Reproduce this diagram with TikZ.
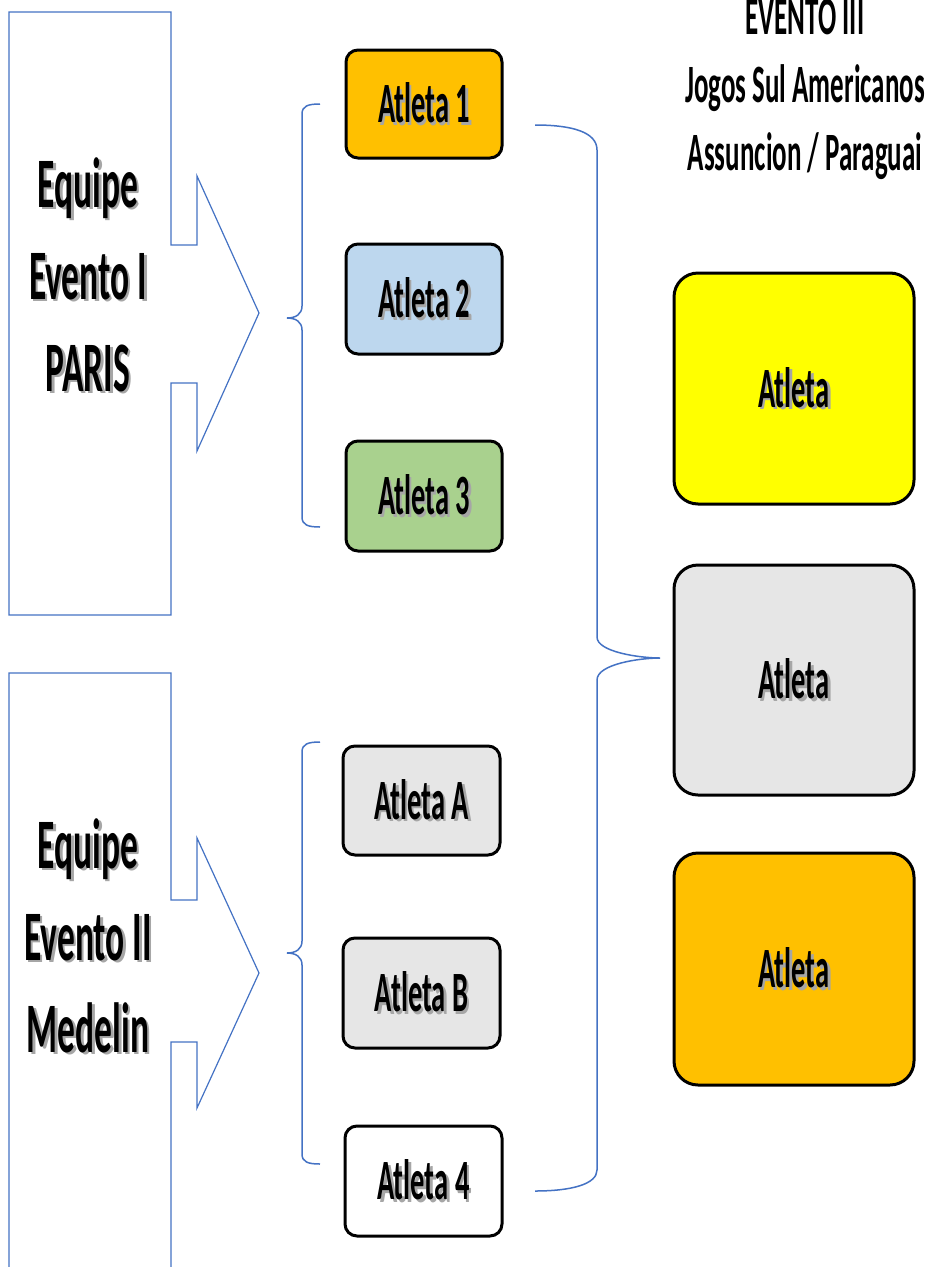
\documentclass[tikz,border=0pt]{standalone}
\usepackage{fontspec}
\newfontfamily\cf{Carlito}[FakeStretch=0.5]
\definecolor{bl}{HTML}{4472C4}
\definecolor{oran}{HTML}{FFC000}
\definecolor{lblue}{HTML}{BDD7EE}
\definecolor{lgreen}{HTML}{A9D18E}
\definecolor{lgray}{HTML}{E6E6E6}
\definecolor{yel}{HTML}{FFFF00}
\newcommand\shd[1]{\leavevmode\rlap{\kern2.5pt\raisebox{-2.5pt}{\color{black!35}#1}}#1}
\begin{document}
\begin{tikzpicture}[x=1pt,y=-1pt,
  outl/.style={draw=bl, line width=1.2pt, line join=miter},
  brc/.style={draw=bl, line width=1.5pt},
  ath/.style={draw=black, line width=3pt, rounded corners=12pt, minimum width=156pt, minimum height=108pt, inner sep=0pt, font=\cf\bfseries\fontsize{57}{60}\selectfont},
  bigb/.style={draw=black, line width=3pt, rounded corners=24pt, minimum width=240pt, minimum height=230pt, inner sep=0pt, font=\cf\bfseries\fontsize{57}{60}\selectfont},
  eq/.style={align=center, inner sep=0pt, font=\cf\bfseries\fontsize{71}{92}\selectfont},
  ttl/.style={align=center, inner sep=0pt, font=\cf\bfseries\fontsize{54}{68}\selectfont}]
\useasboundingbox (0,0) rectangle (927,1267);
\fill[white] (0,0) rectangle (927,1267);
% team boxes with block arrows
\draw[outl] (171,245) -- (171,12) -- (9,12) -- (9,615) -- (171,615) -- (171,383) -- (197,383) -- (197,451) -- (259,313) -- (197,176) -- (197,245) -- cycle;
\draw[outl] (9,1280) -- (9,673) -- (171,673) -- (171,900) -- (197,900) -- (197,838) -- (259,973) -- (197,1108) -- (197,1042) -- (171,1042) -- (171,1280);
\node[eq] (e1) at (88,276) {\shd{Equipe}\\\shd{Evento I}\\\shd{PARIS}};
\node[eq] (e2) at (88,937) {\shd{Equipe}\\\shd{Evento II}\\\shd{Medelin}};
% athletes
\node[ath, fill=oran] (a1) at (424,104) {\shd{Atleta 1}};
\node[ath, fill=lblue, minimum height=110pt] (a2) at (424,299) {\shd{Atleta 2}};
\node[ath, fill=lgreen, minimum height=110pt] (a3) at (424,496) {\shd{Atleta 3}};
\node[ath, fill=lgray, minimum width=157pt, minimum height=109pt] (aA) at (421.5,800.5) {\shd{Atleta A}};
\node[ath, fill=lgray, minimum width=157pt, minimum height=110pt] (aB) at (421.5,993) {\shd{Atleta B}};
\node[ath, fill=white, minimum width=157pt, minimum height=110pt] (a4) at (423.5,1181) {\shd{Atleta 4}};
% event III
\node[ttl] (t) at (805,89.5) {EVENTO III\\Jogos Sul Americanos\\Assuncion / Paraguai};
\node[bigb, fill=yel, minimum height=231pt] (b1) at (794,388.5) {\shd{Atleta}};
\node[bigb, fill=lgray] (b2) at (794,680) {\shd{Atleta}};
\node[bigb, fill=oran, minimum height=232pt] (b3) at (794,969) {\shd{Atleta}};
% braces
\coordinate (l1t) at (320,104);
\coordinate (l1b) at (320,527);
\coordinate (l1m) at (287,318);
\draw[brc] (l1t) .. controls (308,104) and (302,106) .. (302,114) -- (302,306)
  .. controls (302,314) and (296,318) .. (l1m) .. controls (296,318) and (302,322) .. (302,330)
  -- (302,517) .. controls (302,525) and (308,527) .. (l1b);
\coordinate (l2t) at (320,742);
\coordinate (l2b) at (320,1164);
\coordinate (l2m) at (287,953);
\draw[brc] (l2t) .. controls (308,742) and (302,744) .. (302,752) -- (302,941)
  .. controls (302,949) and (296,953) .. (l2m) .. controls (296,953) and (302,957) .. (302,965)
  -- (302,1154) .. controls (302,1162) and (308,1164) .. (l2b);
\coordinate (rt) at (535,125);
\coordinate (rb) at (535,1191);
\coordinate (rm) at (660,658);
\draw[brc] (rt) .. controls (572,125) and (597,132) .. (597,150) -- (597,637)
  .. controls (597,652) and (640,658) .. (rm) .. controls (640,658) and (597,664) .. (597,680)
  -- (597,1170) .. controls (597,1184) and (572,1191) .. (rb);
\end{tikzpicture}
\end{document}
